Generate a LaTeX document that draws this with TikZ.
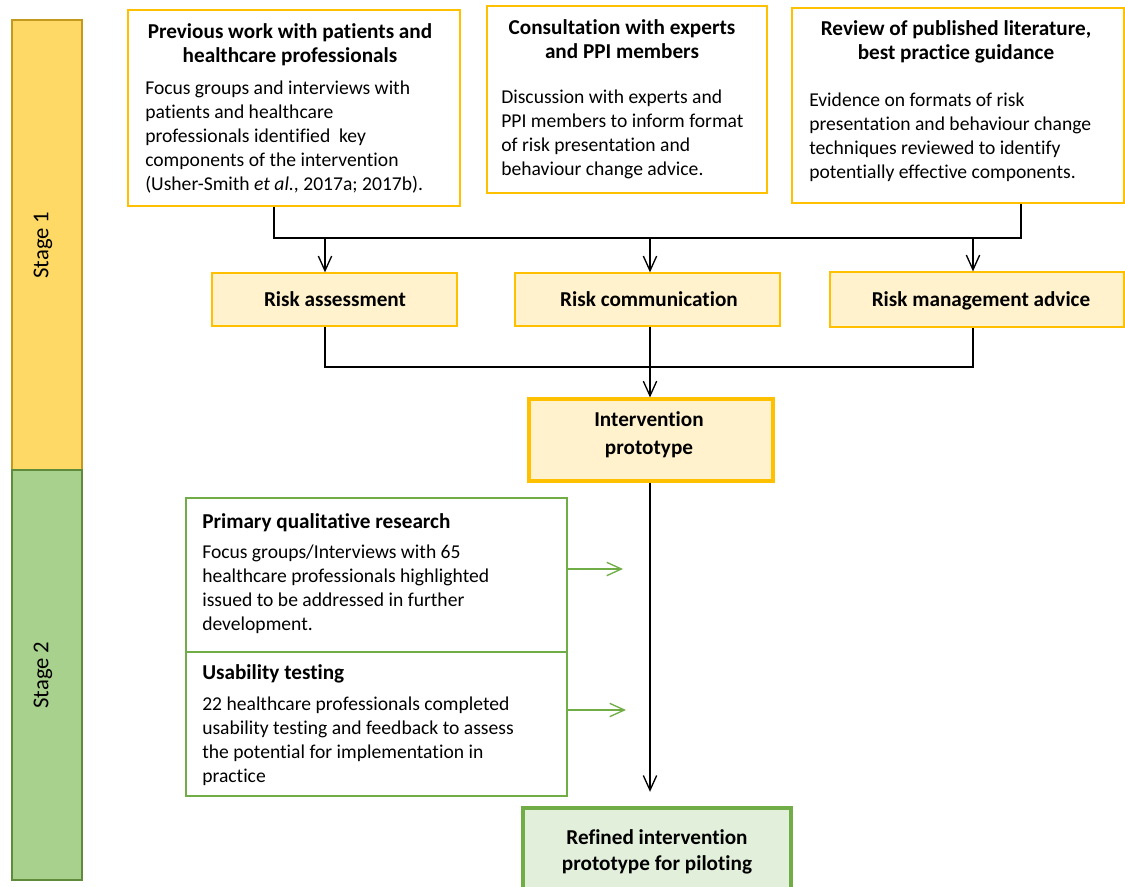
\documentclass[tikz,border=0pt]{standalone}
\usepackage{fontspec}
\setmainfont{Carlito}[Ligatures=CommonOff]
\usepackage{tikz}
\usetikzlibrary{arrows.meta, positioning, fit}

\definecolor{gold}{HTML}{FFC000}
\definecolor{paleyel}{HTML}{FFF2CC}
\definecolor{stageyel}{HTML}{FFD966}
\definecolor{stageyeldark}{HTML}{C49A1E}
\definecolor{stagegrn}{HTML}{A9D18E}
\definecolor{stagegrndark}{HTML}{5E8C3A}
\definecolor{leaf}{HTML}{70AD47}
\definecolor{palegrn}{HTML}{E2EFDA}

\begin{document}
\begin{tikzpicture}[
    x=0.75pt, y=-0.75pt,
    font=\fontsize{14.7}{18}\selectfont,
    ybox/.style={draw=gold, line width=1.3pt, inner sep=0pt},
    yfill/.style={ybox, fill=paleyel, line width=1pt},
    gbox/.style={draw=leaf, line width=1.1pt, inner sep=0pt},
    stagebar/.style={line width=1.1pt, inner sep=0pt},
    stagelab/.style={rotate=90, font=\fontsize{17}{20}\selectfont},
    head/.style={font=\fontsize{15.9}{18}\selectfont\bfseries, align=center,
                 inner sep=0pt, anchor=north},
    lhead/.style={font=\fontsize{15.9}{18}\selectfont\bfseries,
                  inner sep=0pt, anchor=north west},
    body/.style={align=left, inner sep=0pt, anchor=north west},
    line/.style={line width=1pt},
    arr/.style={-{Straight Barb[length=11pt, width=10pt]}, line width=1pt},
    garr/.style={-{Straight Barb[length=11pt, width=10pt]}, line width=1pt, leaf}
]
\useasboundingbox (0,0) rectangle (1125,887);

% stage bars
\node[stagebar, draw=stageyeldark, fill=stageyel, fit={(12,20) (82,470)}] (s1) {};
\node[stagebar, draw=stagegrndark, fill=stagegrn, fit={(12,470) (82,880)}] (s2) {};
\node[stagelab] (s1t) at (43,245) {Stage 1};
\node[stagelab] (s2t) at (43,675) {Stage 2};

% sources
\node[ybox, fit={(128,10) (460,206)}] (prev) {};
\node[head] (prevh) at (290,23) {Previous work with patients and\\healthcare professionals};
\node[body] (prevb) at (145,81) {Focus groups and interviews with\\patients and healthcare\\professionals identified\ \ key\\components of the intervention\\(Usher-Smith \textit{et al.}, 2017a; 2017b).};

\node[ybox, fit={(487,6) (767,193)}] (cons) {};
\node[head] (consh) at (622,19) {Consultation with experts\\and PPI members};
\node[body] (consb) at (501,90) {Discussion with experts and\\PPI members to inform format\\of risk presentation and\\behaviour change advice.};

\node[ybox, fit={(792,8) (1124,203)}] (rev) {};
\node[head] (revh) at (956,20) {Review of published literature,\\best practice guidance};
\node[body] (revb) at (809,93) {Evidence on formats of risk\\presentation and behaviour change\\techniques reviewed to identify\\potentially effective components.};

% components
\node[yfill, fit={(212,273) (457,326)}] (ra) {};
\node[yfill, fit={(515,273) (780,326)}] (rc) {};
\node[yfill, fit={(830,272) (1124,327)}] (rm) {};
\node[head] (rat) at (335,291) {Risk assessment};
\node[head] (rct) at (649,291) {Risk communication};
\node[head] (rmt) at (981,291) {Risk management advice};

\coordinate (ta) at (274,238);
\coordinate (tb) at (1021,238);
\draw[line] (prev.south -| ta) -- (ta) -- (tb) -- (rev.south -| tb);
\coordinate (da) at (325,238);
\coordinate (dc) at (650,238);
\coordinate (dm) at (973,238);
\foreach \c/\b in {da/ra, dc/rc, dm/rm}
   \draw[arr] (\c) -- (\b.north -| \c);

% prototype
\node[ybox, fill=paleyel, line width=2.3pt, fit={(529,399) (773,481)}] (ip) {};
\node[head, font=\fontsize{15.9}{21}\selectfont\bfseries] (iph) at (649,411) {Intervention\\prototype};

\coordinate (ma) at (325,367);
\coordinate (mc) at (650,367);
\coordinate (mm) at (973,367);
\draw[line] (ra.south -| ma) -- (ma) -- (mm) -- (rm.south -| mm);
\draw[line] (rc.south -| mc) -- (mc);
\draw[arr] (mc) -- (ip.north -| mc);

% stage 2
\node[gbox, fit={(186,498) (567,652)}] (pq) {};
\node[lhead] (pqh) at (202,513) {Primary qualitative research};
\node[body] (pqb) at (202,545) {Focus groups/Interviews with 65\\healthcare professionals highlighted\\issued to be addressed in further\\development.};

\node[gbox, fit={(186,652) (567,796)}] (ut) {};
\node[lhead] (uth) at (202,664) {Usability testing};
\node[body] (utb) at (202,697) {22 healthcare professionals completed\\usability testing and feedback to assess\\the potential for implementation in\\practice};

\node[gbox, fill=palegrn, line width=2.3pt, fit={(523,808) (791,900)}] (ref) {};
\node[head, font=\fontsize{15.9}{19.5}\selectfont\bfseries] (refh) at (657,829) {Refined intervention\\prototype for piloting};

\draw[arr, shorten >=11pt] (ip.south -| mc) -- (ref.north -| mc);

\coordinate (ga) at (623,569);
\coordinate (gb) at (626,710);
\draw[garr] (pq.east |- ga) -- (ga);
\draw[garr] (ut.east |- gb) -- (gb);
\end{tikzpicture}
\end{document}
